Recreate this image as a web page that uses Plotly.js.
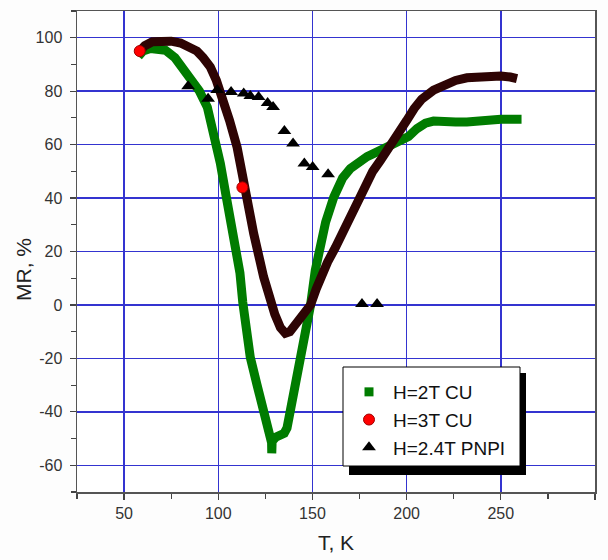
<!DOCTYPE html>
<html>
<head>
<meta charset="utf-8">
<script src="https://cdn.plot.ly/plotly-3.0.1.min.js"></script>
<style>html,body{margin:0;padding:0;background:#fdfdfd;}#chart{width:608px;height:560px;}</style>
</head>
<body>
<div id="chart"></div>
<script>
// H=2T CU (green curve)
var greenT  = [57.6, 60, 64, 68, 72, 77, 81, 85.3, 90, 94.2, 97, 99.4, 101.1, 104.1, 107, 110, 111.5, 113, 114.5, 117, 120.6, 124.1, 127.3, 128.3, 128.4, 128.6, 130.5, 133, 135, 136.5, 138.3, 141.5, 144.5, 149, 151.5, 154.2, 157, 161.3, 166, 170.1, 175, 179, 183.5, 187.8, 192, 196.7, 201, 205.5, 210, 214.3, 220, 226, 232, 238, 244, 250, 256, 261];
var greenMR = [93, 95, 96, 96, 95.3, 92.5, 89, 85, 80, 74, 66, 58.5, 53, 41, 31, 21, 12, 1, -9, -19.6, -30, -39.6, -48.4, -51.5, -55.5, -51, -49.5, -48.5, -48, -46, -39.6, -29, -19.6, 0, 13, 22, 31, 40.3, 47.5, 51, 54, 55.5, 57, 58.5, 59.5, 61, 63, 66, 68, 68.8, 69, 68.5, 68.5, 69, 69, 69.5, 69.5, 69.5];

// H=3T CU (dark curve)
var darkT  = [58.3, 61, 65, 70, 75, 80, 85, 88.7, 92, 95.8, 99, 102.9, 106, 110, 113.9, 118.8, 124.1, 127, 130, 133, 135.6, 138, 140, 143, 145.3, 149, 152, 155, 158, 162.2, 166, 170, 174, 178, 182, 186, 191, 196.6, 200, 204, 208, 214.3, 220, 226, 232, 238, 244, 250, 255, 258.6];
var darkMR = [95, 97, 98.5, 99, 98.7, 98, 96.5, 95, 92.5, 89, 84, 76.6, 69, 59, 43.5, 26.7, 10.4, 3, -3.5, -8.5, -10.6, -10, -8.4, -6, -4, 0, 6, 11.5, 16, 21.5, 27, 33, 40, 45, 50, 54, 59, 64.5, 69, 73.5, 77, 80.4, 82.5, 84, 85, 85.5, 85.8, 85.7, 85.3, 84.7];

// H=3T CU (red markers)
var redT  = [58.3, 112.8];
var redMR = [95, 44];

// H=2.4T PNPI (black triangles)
var triT  = [84, 94.6, 99.4, 106.8, 113.5, 117, 121.4, 126.2, 129.1, 135.1, 139.7, 145.7, 150.1, 158.3, 176.3, 184.3];
var triMR = [81.8, 77.2, 80.4, 79.7, 79.1, 78.2, 77.8, 75.6, 74.1, 65.1, 60.4, 52.9, 51.6, 48.9, 0.4, 0.4];

var names = ['H=2T CU', 'H=3T CU', 'H=2.4T PNPI'];
var xTicks = [50, 100, 150, 200, 250, 300];
var yTicks = [-60, -40, -20, 0, 20, 40, 60, 80, 100];

var GREEN = '#007c00', DARK = '#2e0404', RED = '#ff0000', GRID = '#3434d0';
var L = 77, R = 595, T = 11, B = 492;
function px(x) { return (x - L) / (R - L); }
function py(y) { return (B - y) / (B - T); }

var font = '"Liberation Sans", Arial, sans-serif';

var traces = [
  {x: greenT, y: greenMR, mode: 'lines', line: {color: GREEN, width: 9}, showlegend: false, hoverinfo: 'skip'},
  {x: darkT, y: darkMR, mode: 'lines', line: {color: DARK, width: 9}, showlegend: false, hoverinfo: 'skip'},
  {x: triT, y: triMR, mode: 'markers', name: names[2], legendrank: 3,
   marker: {symbol: 'triangle-up', size: 12, color: '#000'}},
  {x: redT, y: redMR, mode: 'markers', name: names[1], legendrank: 2,
   marker: {symbol: 'circle', size: 11, color: RED, line: {color: '#a00000', width: 1}}},
  {x: [null], y: [null], mode: 'markers', name: names[0], legendrank: 1,
   marker: {symbol: 'square', size: 9, color: GREEN}}
];

var layout = {
  width: 608, height: 560,
  margin: {l: L, r: 608 - R, t: T, b: 560 - B},
  paper_bgcolor: '#fdfdfd', plot_bgcolor: '#ffffff',
  showlegend: true,
  legend: {x: px(345), y: py(373), xanchor: 'left', yanchor: 'top', bgcolor: 'rgba(0,0,0,0)', borderwidth: 0,
           itemwidth: 38, tracegroupgap: 0,
           font: {family: font, size: 19, color: '#111'}, traceorder: 'normal'},
  xaxis: {
    range: [25, 300], tickvals: xTicks, ticktext: xTicks.map(String),
    ticks: 'outside', ticklen: 6, tickwidth: 1.2, tickcolor: '#444',
    showgrid: true, gridcolor: GRID, gridwidth: 1.5,
    showline: true, linecolor: '#555', linewidth: 1.5, mirror: true,
    zeroline: false,
    minor: {dtick: 25, tick0: 0, ticks: 'outside', ticklen: 5, tickcolor: '#444', showgrid: false},
    tickfont: {family: font, size: 16, color: '#333'},
    title: {text: 'T, K', font: {family: font, size: 21, color: '#222'}, standoff: 14}
  },
  yaxis: {
    range: [-70, 110], tickvals: yTicks, ticktext: yTicks.map(String),
    ticks: 'outside', ticklen: 6, tickwidth: 1.2, tickcolor: '#444',
    showgrid: true, gridcolor: GRID, gridwidth: 1.5,
    showline: true, linecolor: '#555', linewidth: 1.5, mirror: true,
    zeroline: false,
    minor: {dtick: 10, tick0: 0, ticks: 'outside', ticklen: 5, tickcolor: '#444', showgrid: false},
    tickfont: {family: font, size: 16, color: '#333'},
    ticklabelstandoff: 4
  },
  annotations: [
    {xref: 'paper', yref: 'paper', x: px(23), y: py(270), text: 'MR, %', textangle: -90, showarrow: false,
     font: {family: font, size: 21, color: '#222'}, xanchor: 'center', yanchor: 'middle'}
  ],
  shapes: [
    {type: 'rect', xref: 'paper', yref: 'paper', x0: px(349), x1: px(526), y0: py(475), y1: py(373),
     fillcolor: '#000', line: {width: 0}, layer: 'above'},
    {type: 'rect', xref: 'paper', yref: 'paper', x0: px(343), x1: px(520), y0: py(466), y1: py(367),
     fillcolor: '#fff', line: {color: '#000', width: 1}, layer: 'above'}
  ]
};

Plotly.newPlot('chart', traces, layout, {displayModeBar: false, staticPlot: true});
</script>
</body>
</html>
